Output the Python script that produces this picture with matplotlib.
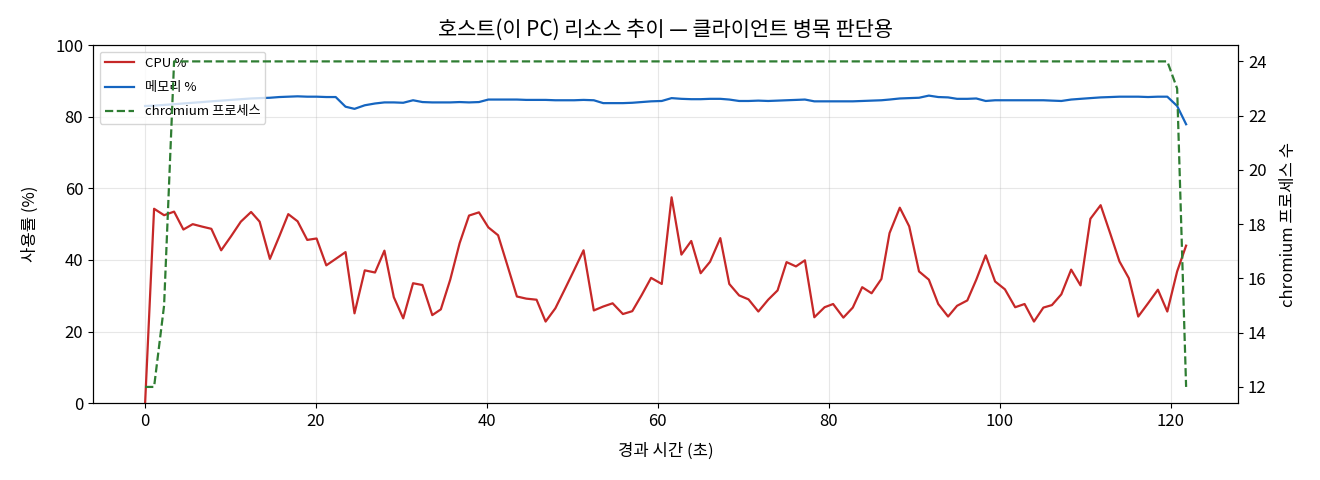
import matplotlib
matplotlib.use("Agg")
import matplotlib.pyplot as plt

plt.rcParams['font.family'] = ['Noto Sans CJK KR', 'DejaVu Sans']
plt.rcParams['axes.unicode_minus'] = False

# sample times (seconds since start)
times = [0, 1.05, 2.22, 3.39, 4.48, 5.57, 6.7, 7.75, 8.9, 10.05, 11.2, 12.4, 13.4, 14.6, 15.7, 16.75, 17.84, 18.97, 20.06, 21.2, 22.3, 23.45,
         24.5, 25.7, 26.9, 28.0, 29.1, 30.2, 31.35, 32.45, 33.6, 34.6, 35.7, 36.8, 37.9, 39.06, 40.16, 41.3, 42.4, 43.5, 44.6, 45.8, 46.86, 48.0,
         49.1, 50.2, 51.3, 52.5, 53.6, 54.7, 55.9, 57.0, 58.1, 59.2, 60.45, 61.6, 62.75, 63.9, 65.0, 66.1, 67.3, 68.35, 69.5, 70.6, 71.75, 72.9,
         74.0, 75.05, 76.15, 77.2, 78.3, 79.5, 80.5, 81.7, 82.8, 83.9, 85.0, 86.15, 87.1, 88.3, 89.4, 90.55, 91.7, 92.8, 93.95, 95.0, 96.2, 97.25,
         98.35, 99.45, 100.6, 101.8, 102.9, 104.0, 105.1, 106.1, 107.2, 108.35, 109.45, 110.6, 111.8, 112.95, 114.0, 115.1, 116.2, 117.35, 118.5, 119.6, 120.75, 121.8]

cpu = [0, 54.3, 52.5, 53.5, 48.5, 50.0, 49.3, 48.7, 42.7, 46.6, 50.7, 53.4, 50.7, 40.3, 46.6, 52.8, 50.8, 45.6, 46.0, 38.5, 40.3, 42.2,
       25.1, 37.1, 36.5, 42.6, 29.6, 23.7, 33.5, 33.0, 24.6, 26.2, 34.5, 44.7, 52.4, 53.3, 49.1, 46.9, 38.4, 29.8, 29.2, 28.9, 22.8, 26.5,
       31.8, 37.2, 42.7, 25.9, 27.0, 27.9, 24.9, 25.7, 30.2, 35.0, 33.3, 57.5, 41.5, 45.3, 36.3, 39.5, 46.1, 33.3, 30.1, 29.0, 25.6, 28.9,
       31.5, 39.4, 38.2, 39.9, 24.0, 26.8, 27.7, 23.9, 26.7, 32.4, 30.7, 34.7, 47.5, 54.6, 49.4, 36.8, 34.5, 27.7, 24.2, 27.2, 28.7, 34.5,
       41.3, 34.0, 31.8, 26.8, 27.7, 22.8, 26.7, 27.4, 30.4, 37.3, 32.9, 51.5, 55.3, 47.2, 39.6, 34.9, 24.2, 27.9, 31.7, 25.6, 36.8, 44.0]

memory = [83.0, 83.1, 83.3, 83.5, 83.7, 83.9, 84.1, 84.3, 84.5, 84.7, 84.9, 85.1, 85.2, 85.3, 85.5, 85.6, 85.7, 85.6, 85.6, 85.5, 85.5, 82.8,
          82.2, 83.2, 83.7, 84.0, 84.0, 83.9, 84.6, 84.1, 84.0, 84.0, 84.0, 84.1, 84.0, 84.1, 84.8, 84.8, 84.8, 84.8, 84.7, 84.7, 84.7, 84.6,
          84.6, 84.6, 84.7, 84.6, 83.8, 83.8, 83.8, 83.9, 84.1, 84.3, 84.4, 85.2, 85.0, 84.9, 84.9, 85.0, 85.0, 84.8, 84.4, 84.4, 84.5, 84.4,
          84.5, 84.6, 84.7, 84.8, 84.3, 84.3, 84.3, 84.3, 84.3, 84.4, 84.5, 84.6, 84.8, 85.1, 85.2, 85.3, 85.9, 85.5, 85.4, 85.0, 85.0, 85.1,
          84.4, 84.6, 84.6, 84.6, 84.6, 84.6, 84.6, 84.5, 84.4, 84.8, 85.0, 85.2, 85.4, 85.5, 85.6, 85.6, 85.6, 85.5, 85.6, 85.6, 83.0, 77.9]

chromium = [12, 12, 15, 24, 24, 24, 24, 24, 24, 24, 24, 24, 24, 24, 24, 24, 24, 24, 24, 24, 24, 24,
            24, 24, 24, 24, 24, 24, 24, 24, 24, 24, 24, 24, 24, 24, 24, 24, 24, 24, 24, 24, 24, 24,
            24, 24, 24, 24, 24, 24, 24, 24, 24, 24, 24, 24, 24, 24, 24, 24, 24, 24, 24, 24, 24, 24,
            24, 24, 24, 24, 24, 24, 24, 24, 24, 24, 24, 24, 24, 24, 24, 24, 24, 24, 24, 24, 24, 24,
            24, 24, 24, 24, 24, 24, 24, 24, 24, 24, 24, 24, 24, 24, 24, 24, 24, 24, 24, 24, 23, 12]

fig, ax = plt.subplots(figsize=(13.2, 4.8), dpi=100)
fig.subplots_adjust(left=0.0705, right=0.938, top=0.906, bottom=0.16)

l1, = ax.plot(times, cpu, color='#c62828', linewidth=1.6, label='CPU %')
l2, = ax.plot(times, memory, color='#1565c0', linewidth=1.6, label='메모리 %')
ax.set_ylim(0, 100)
ax.set_xlabel('경과 시간 (초)', fontsize=12, labelpad=9)
ax.set_ylabel('사용률 (%)', fontsize=12, labelpad=12)
ax.grid(True, alpha=0.3)
ax.tick_params(labelsize=12)

ax2 = ax.twinx()
l3, = ax2.plot(times, chromium, color='#2e7d32', linewidth=1.6, linestyle='--', label='chromium 프로세스')
ax2.set_ylabel('chromium 프로세스 수', fontsize=12, labelpad=10)
ax2.tick_params(labelsize=12)

ax.set_title('호스트(이 PC) 리소스 추이 — 클라이언트 병목 판단용', fontsize=15, pad=7)
ax.legend(handles=[l1, l2, l3], loc='upper left', fontsize=9.5, labelspacing=0.85,
          handlelength=2.2)

plt.savefig('out.png')
